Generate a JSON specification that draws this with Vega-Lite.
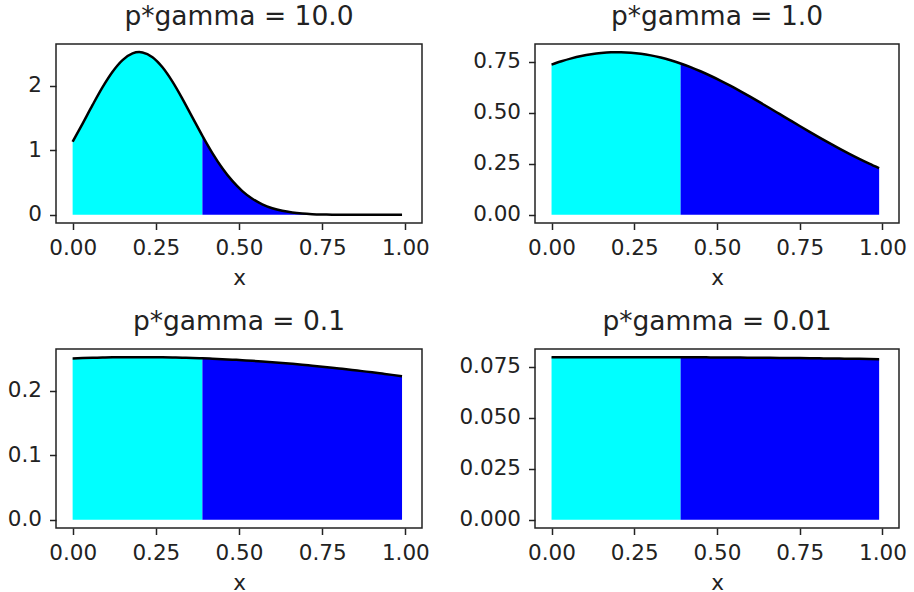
{
  "$schema": "https://vega.github.io/schema/vega-lite/v6.json",
  "padding": {"left": 6, "top": 2, "right": 0, "bottom": 0},
  "background": "white",
  "bounds": "flush",
  "columns": 2,
  "spacing": {"row": 126, "column": 113},
  "config": {
    "view": {"stroke": "#222", "strokeWidth": 1.5},
    "axis": {
      "domain": false, "grid": false,
      "tickColor": "#222", "tickSize": 6.5, "tickWidth": 1.5,
      "labelFont": "DejaVu Sans", "labelFontSize": 21.5, "labelColor": "#222", "labelPadding": 8,
      "titleFont": "DejaVu Sans", "titleFontSize": 21.5, "titleFontWeight": "normal", "titleColor": "#222", "titlePadding": 8
    },
    "title": {"font": "DejaVu Sans", "fontSize": 26.5, "fontWeight": "normal", "color": "#222", "baseline": "alphabetic", "offset": 14, "anchor": "middle"}
  },
  "datasets": {
    "curves": [
      {"k": "10", "x": 0.00, "y": 1.1337}, {"k": "10", "x": 0.03, "y": 1.4155}, {"k": "10", "x": 0.06, "y": 1.7050}, {"k": "10", "x": 0.09, "y": 1.9808},
      {"k": "10", "x": 0.12, "y": 2.2200}, {"k": "10", "x": 0.15, "y": 2.4001}, {"k": "10", "x": 0.18, "y": 2.5030}, {"k": "10", "x": 0.20, "y": 2.5231},
      {"k": "10", "x": 0.21, "y": 2.5181}, {"k": "10", "x": 0.24, "y": 2.4437}, {"k": "10", "x": 0.27, "y": 2.2876}, {"k": "10", "x": 0.30, "y": 2.0658},
      {"k": "10", "x": 0.33, "y": 1.7996}, {"k": "10", "x": 0.36, "y": 1.5121}, {"k": "10", "x": 0.39, "y": 1.2257}, {"k": "10", "x": 0.42, "y": 0.9584},
      {"k": "10", "x": 0.45, "y": 0.7229}, {"k": "10", "x": 0.48, "y": 0.5260}, {"k": "10", "x": 0.51, "y": 0.3691}, {"k": "10", "x": 0.54, "y": 0.2499},
      {"k": "10", "x": 0.57, "y": 0.1632}, {"k": "10", "x": 0.60, "y": 0.1028}, {"k": "10", "x": 0.63, "y": 0.0625}, {"k": "10", "x": 0.66, "y": 0.0366},
      {"k": "10", "x": 0.69, "y": 0.0207}, {"k": "10", "x": 0.72, "y": 0.0113}, {"k": "10", "x": 0.75, "y": 0.0059}, {"k": "10", "x": 0.78, "y": 0.0030},
      {"k": "10", "x": 0.81, "y": 0.0015}, {"k": "10", "x": 0.84, "y": 0.0007}, {"k": "10", "x": 0.87, "y": 0.0003}, {"k": "10", "x": 0.90, "y": 0.0001},
      {"k": "10", "x": 0.93, "y": 0.0}, {"k": "10", "x": 0.96, "y": 0.0}, {"k": "10", "x": 0.99, "y": 0.0},

      {"k": "1", "x": 0.00, "y": 0.7365}, {"k": "1", "x": 0.03, "y": 0.7531}, {"k": "1", "x": 0.06, "y": 0.7672}, {"k": "1", "x": 0.09, "y": 0.7788},
      {"k": "1", "x": 0.12, "y": 0.7877}, {"k": "1", "x": 0.15, "y": 0.7939}, {"k": "1", "x": 0.18, "y": 0.7972}, {"k": "1", "x": 0.21, "y": 0.7977},
      {"k": "1", "x": 0.24, "y": 0.7953}, {"k": "1", "x": 0.27, "y": 0.7901}, {"k": "1", "x": 0.30, "y": 0.7821}, {"k": "1", "x": 0.33, "y": 0.7714},
      {"k": "1", "x": 0.36, "y": 0.7581}, {"k": "1", "x": 0.39, "y": 0.7423}, {"k": "1", "x": 0.42, "y": 0.7243}, {"k": "1", "x": 0.45, "y": 0.7041},
      {"k": "1", "x": 0.48, "y": 0.6821}, {"k": "1", "x": 0.51, "y": 0.6584}, {"k": "1", "x": 0.54, "y": 0.6332}, {"k": "1", "x": 0.57, "y": 0.6068},
      {"k": "1", "x": 0.60, "y": 0.5794}, {"k": "1", "x": 0.63, "y": 0.5512}, {"k": "1", "x": 0.66, "y": 0.5226}, {"k": "1", "x": 0.69, "y": 0.4936},
      {"k": "1", "x": 0.72, "y": 0.4646}, {"k": "1", "x": 0.75, "y": 0.4357}, {"k": "1", "x": 0.78, "y": 0.4071}, {"k": "1", "x": 0.81, "y": 0.3791},
      {"k": "1", "x": 0.84, "y": 0.3517}, {"k": "1", "x": 0.87, "y": 0.3251}, {"k": "1", "x": 0.90, "y": 0.2995}, {"k": "1", "x": 0.93, "y": 0.2748},
      {"k": "1", "x": 0.96, "y": 0.2513}, {"k": "1", "x": 0.99, "y": 0.2290},

      {"k": "0.1", "x": 0.00, "y": 0.2503}, {"k": "0.1", "x": 0.03, "y": 0.2509}, {"k": "0.1", "x": 0.06, "y": 0.2513}, {"k": "0.1", "x": 0.09, "y": 0.2517},
      {"k": "0.1", "x": 0.12, "y": 0.2520}, {"k": "0.1", "x": 0.15, "y": 0.2522}, {"k": "0.1", "x": 0.18, "y": 0.2523}, {"k": "0.1", "x": 0.21, "y": 0.2523},
      {"k": "0.1", "x": 0.24, "y": 0.2522}, {"k": "0.1", "x": 0.27, "y": 0.2521}, {"k": "0.1", "x": 0.30, "y": 0.2518}, {"k": "0.1", "x": 0.33, "y": 0.2515},
      {"k": "0.1", "x": 0.36, "y": 0.2510}, {"k": "0.1", "x": 0.39, "y": 0.2505}, {"k": "0.1", "x": 0.42, "y": 0.2499}, {"k": "0.1", "x": 0.45, "y": 0.2492},
      {"k": "0.1", "x": 0.48, "y": 0.2484}, {"k": "0.1", "x": 0.51, "y": 0.2475}, {"k": "0.1", "x": 0.54, "y": 0.2465}, {"k": "0.1", "x": 0.57, "y": 0.2455},
      {"k": "0.1", "x": 0.60, "y": 0.2444}, {"k": "0.1", "x": 0.63, "y": 0.2432}, {"k": "0.1", "x": 0.66, "y": 0.2419}, {"k": "0.1", "x": 0.69, "y": 0.2405},
      {"k": "0.1", "x": 0.72, "y": 0.2390}, {"k": "0.1", "x": 0.75, "y": 0.2375}, {"k": "0.1", "x": 0.78, "y": 0.2359}, {"k": "0.1", "x": 0.81, "y": 0.2342},
      {"k": "0.1", "x": 0.84, "y": 0.2325}, {"k": "0.1", "x": 0.87, "y": 0.2306}, {"k": "0.1", "x": 0.90, "y": 0.2288}, {"k": "0.1", "x": 0.93, "y": 0.2268},
      {"k": "0.1", "x": 0.96, "y": 0.2248}, {"k": "0.1", "x": 0.99, "y": 0.2227},

      {"k": "0.01", "x": 0.00, "y": 0.07972}, {"k": "0.01", "x": 0.03, "y": 0.07974}, {"k": "0.01", "x": 0.06, "y": 0.07976}, {"k": "0.01", "x": 0.09, "y": 0.07977},
      {"k": "0.01", "x": 0.12, "y": 0.07978}, {"k": "0.01", "x": 0.15, "y": 0.07979}, {"k": "0.01", "x": 0.18, "y": 0.07979}, {"k": "0.01", "x": 0.21, "y": 0.07979},
      {"k": "0.01", "x": 0.24, "y": 0.07979}, {"k": "0.01", "x": 0.27, "y": 0.07979}, {"k": "0.01", "x": 0.30, "y": 0.07977}, {"k": "0.01", "x": 0.33, "y": 0.07976},
      {"k": "0.01", "x": 0.36, "y": 0.07975}, {"k": "0.01", "x": 0.39, "y": 0.07973}, {"k": "0.01", "x": 0.42, "y": 0.07971}, {"k": "0.01", "x": 0.45, "y": 0.07969},
      {"k": "0.01", "x": 0.48, "y": 0.07966}, {"k": "0.01", "x": 0.51, "y": 0.07963}, {"k": "0.01", "x": 0.54, "y": 0.07960}, {"k": "0.01", "x": 0.57, "y": 0.07957},
      {"k": "0.01", "x": 0.60, "y": 0.07953}, {"k": "0.01", "x": 0.63, "y": 0.07949}, {"k": "0.01", "x": 0.66, "y": 0.07945}, {"k": "0.01", "x": 0.69, "y": 0.07941},
      {"k": "0.01", "x": 0.72, "y": 0.07936}, {"k": "0.01", "x": 0.75, "y": 0.07931}, {"k": "0.01", "x": 0.78, "y": 0.07925}, {"k": "0.01", "x": 0.81, "y": 0.07919},
      {"k": "0.01", "x": 0.84, "y": 0.07914}, {"k": "0.01", "x": 0.87, "y": 0.07907}, {"k": "0.01", "x": 0.90, "y": 0.07901}, {"k": "0.01", "x": 0.93, "y": 0.07894},
      {"k": "0.01", "x": 0.96, "y": 0.07887}, {"k": "0.01", "x": 0.99, "y": 0.07880}
    ]
  },
  "data": {"name": "curves"},
  "concat": [
    {
      "width": 366, "height": 179,
      "title": "p*gamma = 10.0",
      "transform": [{"filter": "datum.k == '10'"}],
      "encoding": {
        "x": {"field": "x", "type": "quantitative", "scale": {"domain": [-0.05, 1.05], "nice": false, "zero": false}, "axis": {"values": [0, 0.25, 0.5, 0.75, 1.0], "format": ".2f", "title": "x"}},
        "y": {"field": "y", "type": "quantitative", "scale": {"domain": [-0.126, 2.649], "nice": false, "zero": false}, "axis": {"values": [0, 1, 2], "format": "d", "title": null}}
      },
      "layer": [
        {"transform": [{"filter": "datum.x <= 0.39"}], "mark": {"type": "area", "color": "#00ffff", "interpolate": "monotone", "opacity": 1}, "encoding": {"y2": {"datum": 0}}},
        {"transform": [{"filter": "datum.x >= 0.39"}], "mark": {"type": "area", "color": "#0000ff", "interpolate": "monotone", "opacity": 1}, "encoding": {"y2": {"datum": 0}}},
        {"mark": {"type": "line", "color": "black", "strokeWidth": 2.5, "interpolate": "monotone"}, "encoding": {}}
      ]
    },
    {
      "width": 364, "height": 179,
      "title": "p*gamma = 1.0",
      "transform": [{"filter": "datum.k == '1'"}],
      "encoding": {
        "x": {"field": "x", "type": "quantitative", "scale": {"domain": [-0.05, 1.05], "nice": false, "zero": false}, "axis": {"values": [0, 0.25, 0.5, 0.75, 1.0], "format": ".2f", "title": "x"}},
        "y": {"field": "y", "type": "quantitative", "scale": {"domain": [-0.0399, 0.8378], "nice": false, "zero": false}, "axis": {"values": [0, 0.25, 0.5, 0.75], "format": ".2f", "title": null}}
      },
      "layer": [
        {"transform": [{"filter": "datum.x <= 0.39"}], "mark": {"type": "area", "color": "#00ffff", "interpolate": "monotone", "opacity": 1}, "encoding": {"y2": {"datum": 0}}},
        {"transform": [{"filter": "datum.x >= 0.39"}], "mark": {"type": "area", "color": "#0000ff", "interpolate": "monotone", "opacity": 1}, "encoding": {"y2": {"datum": 0}}},
        {"mark": {"type": "line", "color": "black", "strokeWidth": 2.5, "interpolate": "monotone"}, "encoding": {}}
      ]
    },
    {
      "width": 366, "height": 179,
      "title": "p*gamma = 0.1",
      "transform": [{"filter": "datum.k == '0.1'"}],
      "encoding": {
        "x": {"field": "x", "type": "quantitative", "scale": {"domain": [-0.05, 1.05], "nice": false, "zero": false}, "axis": {"values": [0, 0.25, 0.5, 0.75, 1.0], "format": ".2f", "title": "x"}},
        "y": {"field": "y", "type": "quantitative", "scale": {"domain": [-0.0126, 0.2649], "nice": false, "zero": false}, "axis": {"values": [0, 0.1, 0.2], "format": ".1f", "title": null}}
      },
      "layer": [
        {"transform": [{"filter": "datum.x <= 0.39"}], "mark": {"type": "area", "color": "#00ffff", "interpolate": "monotone", "opacity": 1}, "encoding": {"y2": {"datum": 0}}},
        {"transform": [{"filter": "datum.x >= 0.39"}], "mark": {"type": "area", "color": "#0000ff", "interpolate": "monotone", "opacity": 1}, "encoding": {"y2": {"datum": 0}}},
        {"mark": {"type": "line", "color": "black", "strokeWidth": 2.5, "interpolate": "monotone"}, "encoding": {}}
      ]
    },
    {
      "width": 364, "height": 179,
      "title": "p*gamma = 0.01",
      "transform": [{"filter": "datum.k == '0.01'"}],
      "encoding": {
        "x": {"field": "x", "type": "quantitative", "scale": {"domain": [-0.05, 1.05], "nice": false, "zero": false}, "axis": {"values": [0, 0.25, 0.5, 0.75, 1.0], "format": ".2f", "title": "x"}},
        "y": {"field": "y", "type": "quantitative", "scale": {"domain": [-0.00399, 0.08378], "nice": false, "zero": false}, "axis": {"values": [0, 0.025, 0.05, 0.075], "format": ".3f", "title": null}}
      },
      "layer": [
        {"transform": [{"filter": "datum.x <= 0.39"}], "mark": {"type": "area", "color": "#00ffff", "interpolate": "monotone", "opacity": 1}, "encoding": {"y2": {"datum": 0}}},
        {"transform": [{"filter": "datum.x >= 0.39"}], "mark": {"type": "area", "color": "#0000ff", "interpolate": "monotone", "opacity": 1}, "encoding": {"y2": {"datum": 0}}},
        {"mark": {"type": "line", "color": "black", "strokeWidth": 2.5, "interpolate": "monotone"}, "encoding": {}}
      ]
    }
  ]
}
